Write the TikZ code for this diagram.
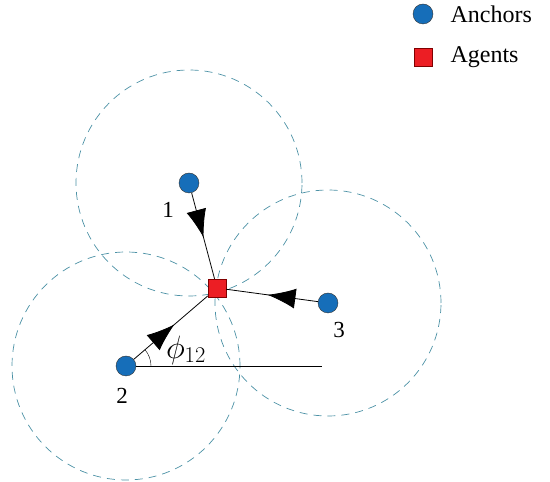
\documentclass[tikz,border=0pt]{standalone}
\usepackage{fontspec}
\setmainfont{Liberation Serif}
\usetikzlibrary{arrows.meta,decorations.markings}
\definecolor{ancorablue}{RGB}{22,110,185}
\definecolor{agentered}{RGB}{236,30,36}
\definecolor{ringteal}{RGB}{75,145,165}

\begin{document}
\begin{tikzpicture}[x = 1pt, y = 1pt,
	ancora/.style = {circle,draw=black!80,fill=ancorablue,inner sep=0pt,minimum size=20pt},
	agente/.style = {rectangle,draw=red!50!black,fill=agentered,inner sep=0pt,minimum size=18pt},
	ring/.style = {draw=ringteal,dash pattern=on 8pt off 6pt,line width=0.7pt},
	seta/.style = {postaction={decorate},decoration={markings,mark=at position #1 with {\arrow{Latex[length=28pt,width=20pt]}}}},
	rotulo/.style = {font=\fontsize{23}{25}\selectfont},]
		
		\useasboundingbox (0,0) rectangle (550,482);
		
		\draw[ring] (189,299) circle (113);
		\draw[ring] (126,116) circle (114);
		\draw[ring] (328,179) circle (113);
		
		\node[ancora] (A1) at (189,299) {};
		\node[ancora] (A2) at (126,116) {};
		\node[ancora] (A3) at (328,179) {};
		\node[agente] (G) at (217,194) {};
		\coordinate (H) at (322,116);
		
		\draw[line width=0.8pt,seta=0.52]	(A1) -- (G);
		\draw[line width=0.8pt,seta=0.55]	(A2) -- (G);
		\draw[line width=0.8pt,seta=0.55]	(A3) -- (G);
		\draw[line width=0.8pt]	(A2) -- (H);
		\draw[thin] ([shift={(0:25)}]A2.center) arc (0:40.6:25);
		
		\node[rotulo] (L1) at (168,272) {1};
		\node[rotulo] (L2) at (122,86) {2};
		\node[rotulo] (L3) at (339,152) {3};
		\node[font=\fontsize{24}{26}\selectfont,scale=1.3,transform shape] (P) at (186,132) {$\phi_{12}$};
		
		% legenda
		\node[ancora] (LA) at (423,468) {};
		\node[rotulo,anchor=west,font=\fontsize{24}{26}\selectfont] (TA) at (447,468) {Anchors};
		\node[agente] (LG) at (423,425) {};
		\node[rotulo,anchor=west,font=\fontsize{24}{26}\selectfont] (TG) at (447,425) {Agents};
		
	\end{tikzpicture}
\end{document}
